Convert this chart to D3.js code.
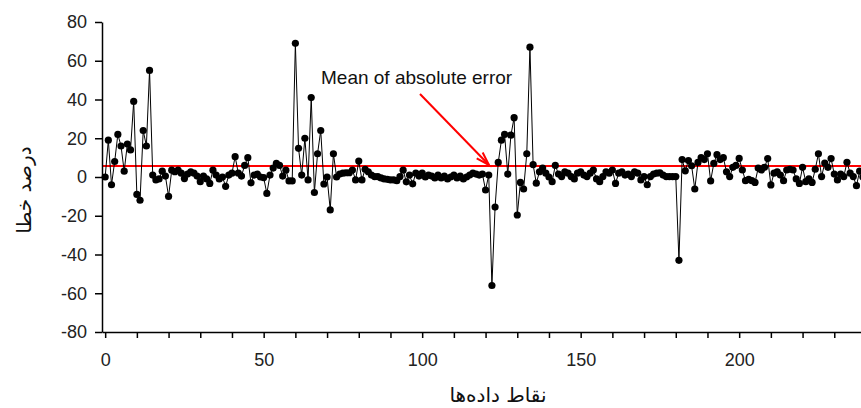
<!DOCTYPE html>
<html lang="fa">
	<head>
		<meta charset="utf-8">
		<title>Error chart</title>
		<script type="text/javascript" src="https://cdn.jsdelivr.net/npm/d3@7/dist/d3.min.js"></script>
		<style type="text/css">
			body { margin: 0; background: #fff; }
			.axis text {
				font-family: "Liberation Sans", Arial, sans-serif;
				font-size: 18px;
				fill: #222;
			}
			.axis path, .axis line {
				stroke: #000;
				stroke-width: 1.5px;
			}
			.title {
				font-family: "DejaVu Sans", sans-serif;
				font-size: 20px;
				fill: #111;
			}
		</style>
	</head>
	<body>
		<script type="text/javascript">
			//Width and height
			var w = 861;
			var h = 408;

			//Percent error of each data point (x = position in the list)
			var errorPct = [
				0, 19, -4, 8, 22, 16, 3, 17, 14, 39,
				-9, -12, 24, 16, 55, 1, -1.5, -1, 3, 0.5,
				-10, 3.5, 2.7, 3.5, 2, -0.8, 1.5, 2.7, 2, 0.5,
				-2.4, 0.5, -1, -3.3, 3.5, 1, -1, 0, -4.8, 1,
				2, 10.5, 2, 0.5, 6, 10, -3, 1, 1.5, 0,
				-0.3, -8.5, 1, 4.6, 7, 6, 0.5, 3.5, -2, -2,
				69, 14.8, 1, 20, -1.5, 41, -8, 12, 24, -3.6,
				0, -17, 12, 0, 1.5, 2, 2.2, 2.2, 3.6, -1.5,
				8.2, -1.5, 4, 2.7, 1, 0.2, 0.2, -0.5, -1, -1.2,
				-1.5, -1.5, -1.9, 0.2, 3.5, -2.5, 1, -3.5, 2, 0.5,
				2, 0, 1, 0.5, -0.5, 1, -0.5, 0.5, -1, 0,
				1, -0.5, 0.5, -1, 0, 1, 2, 1.5, 1, 1.5,
				-6.7, 1, -56, -15.5, 7.5, 19, 22, 1.5, 21.6, 30.6,
				-19.6, -2.8, -6.2, 12, 67, 6.4, -3.2, 2.7, 4.6, 2,
				0, -2.4, 6, 1.5, 0.2, 2.7, 2, 0.2, -1, 2,
				2.7, 1, 0.2, 2, 3.6, -1, -2.4, 0.2, 2.7, 2,
				3.6, -3.3, 2, 2.7, 1, 1.5, 0.2, 2.7, 2, -1.5,
				0.2, -4, 0.2, 1.5, 2, 2.2, 1, 0.2, 0.2, 0.2,
				0.2, -43, 9, 3.2, 8.5, 5.8, -6.2, 7.5, 10, 9,
				12, -2, 7, 11.5, 9, 10, 2.7, 0.2, 5, 6,
				9.6, 3.6, -1.9, -1.2, -1.9, -2.8, 4.6, 3.6, 5, 9.5,
				-4.1, 2, 2.7, 1, -1.9, 3.6, 4, 3.6, -1, -3.3,
				5, -2.4, -1, -2.8, 4, 12, 0.2, 7.2, 5, 9.5,
				1.5, -1.5, 1.5, 0.2, 7.6, 2, 0.2, -4.5, 3, 0
			];
			var meanAbsError = 5.7;

			//Ticks and labels
			var xTicks = d3.range(0, 240, 10);
			var xLabelTicks = [0, 50, 100, 150, 200];
			var yTicks = [-80, -60, -40, -20, 0, 20, 40, 60, 80];
			var xTitle = "نقاط داده‌ها";
			var yTitle = "درصد خطا";
			var noteText = "Mean of absolute error";

			//Scales
			var xScale = d3.scaleLinear()
								 .domain([-1, 240])
								 .range([102, 102 + 241 * 3.17]);
			var yScale = d3.scaleLinear()
								 .domain([-80, 80])
								 .range([332, 22]);

			var svg = d3.select("body")
						.append("svg")
						.attr("width", w)
						.attr("height", h);

			//Mean line
			svg.append("line")
				.attr("x1", xScale(-1))
				.attr("x2", w)
				.attr("y1", yScale(meanAbsError))
				.attr("y2", yScale(meanAbsError))
				.attr("stroke", "#ff0000")
				.attr("stroke-width", 2);

			//Data line and dots
			var line = d3.line()
						 .x(function(d, i) { return xScale(i); })
						 .y(function(d) { return yScale(d); });

			svg.append("path")
				.datum(errorPct)
				.attr("d", line)
				.attr("fill", "none")
				.attr("stroke", "#000")
				.attr("stroke-width", 1);

			svg.selectAll("circle")
			   .data(errorPct)
			   .enter()
			   .append("circle")
			   .attr("cx", function(d, i) { return xScale(i); })
			   .attr("cy", function(d) { return yScale(d); })
			   .attr("r", 3.6)
			   .attr("fill", "#000");

			//X axis
			var xAxis = d3.axisBottom(xScale)
						  .tickValues(xTicks)
						  .tickSize(6)
						  .tickSizeOuter(0)
						  .tickPadding(15)
						  .tickFormat(function(d) { return xLabelTicks.indexOf(d) >= 0 ? d : ""; });
			svg.append("g")
				.attr("class", "x axis")
				.attr("transform", "translate(0," + yScale(-80) + ")")
				.call(xAxis);

			//Y axis (plain hyphen for negatives, as in the original)
			var yAxis = d3.axisLeft(yScale)
						  .tickValues(yTicks)
						  .tickSize(7)
						  .tickSizeOuter(0)
						  .tickPadding(8)
						  .tickFormat(function(d) { return String(d); });
			svg.append("g")
				.attr("class", "y axis")
				.attr("transform", "translate(" + xScale(-1) + ",0)")
				.call(yAxis);

			//Axis titles
			svg.append("text")
				.attr("class", "title")
				.attr("x", 498)
				.attr("y", 402)
				.attr("text-anchor", "middle")
				.text(xTitle);
			svg.append("text")
				.attr("class", "title")
				.attr("transform", "translate(31,190) rotate(-90)")
				.attr("text-anchor", "middle")
				.text(yTitle);

			//Annotation
			svg.append("text")
				.attr("x", 321)
				.attr("y", 84)
				.attr("font-family", "Liberation Sans, Arial, sans-serif")
				.attr("font-size", 19)
				.attr("fill", "#111")
				.text(noteText);

			var tip = [489, 165], tail = [420, 94];
			var ang = Math.atan2(tip[1] - tail[1], tip[0] - tail[0]);
			var headLen = 14, headAng = 0.3;
			svg.append("line")
				.attr("x1", tail[0]).attr("y1", tail[1])
				.attr("x2", tip[0]).attr("y2", tip[1])
				.attr("stroke", "#ff0000")
				.attr("stroke-width", 2);
			svg.append("path")
				.attr("d", "M" + (tip[0] - headLen * Math.cos(ang - headAng)) + "," + (tip[1] - headLen * Math.sin(ang - headAng)) +
					"L" + tip[0] + "," + tip[1] +
					"L" + (tip[0] - headLen * Math.cos(ang + headAng)) + "," + (tip[1] - headLen * Math.sin(ang + headAng)))
				.attr("fill", "none")
				.attr("stroke", "#ff0000")
				.attr("stroke-width", 2);
		</script>
	</body>
</html>
